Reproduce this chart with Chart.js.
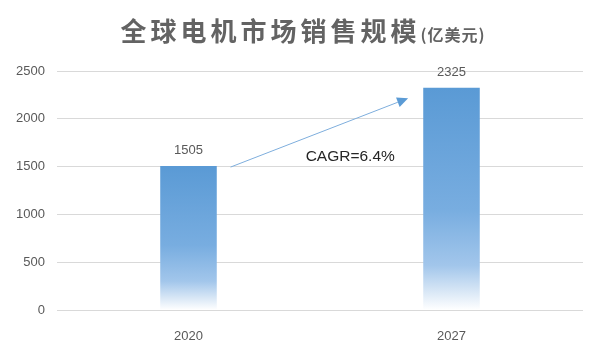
<!DOCTYPE html>
<html>
<head>
<meta charset="utf-8">
<script src="https://cdn.jsdelivr.net/npm/chart.js@4/dist/chart.umd.min.js"></script>
<style>
  html, body { margin: 0; padding: 0; background: #fff; }
  #wrap { position: relative; width: 600px; height: 355px; }
  #title {
    position: absolute; left: 0; top: 12px; width: 600px; text-align: center;
    font-family: "Noto Sans CJK SC", sans-serif; font-weight: bold; color: #636363;
    font-size: 26px; letter-spacing: 4px; line-height: 36px; padding-left: 6px; box-sizing: border-box;
  }
  #title span { font-size: 16px; letter-spacing: 1px; }
</style>
</head>
<body>
<div id="wrap">
  <div id="title">全球电机市场销售规模<span>(亿美元)</span></div>
  <canvas id="chart" width="600" height="355"></canvas>
</div>
<script>
// données
const years = ["2020", "2027"];
const sales = [1505, 2325];
const yTicks = [0, 500, 1000, 1500, 2000, 2500];
const cagrText = "CAGR=6.4%";
// flèche : position en index de catégorie / valeur
const arrowFrom = [0.16, 1495];
const arrowTo = [0.835, 2215];
const cagrAt = [0.615, 1600];

const grey = "#595959";
const blue = "#5b9bd5";

function barGradient(c) {
    const chart = c.chart;
    if (!chart.chartArea) return blue;
    const y = chart.scales.y;
    const top = y.getPixelForValue(c.raw);
    const bottom = y.getPixelForValue(0);
    const g = chart.ctx.createLinearGradient(0, top, 0, bottom);
    g.addColorStop(0, "#5a9ad5");
    g.addColorStop(0.55, "#78ade0");
    g.addColorStop(0.8, "#a2c6eb");
    g.addColorStop(0.92, "#dae8f6");
    g.addColorStop(1, "#ffffff");
    return g;
}

// libellés, flèche et CAGR
const extras = {
    id: "extras",
    afterDatasetsDraw(chart) {
        const ctx = chart.ctx;
        const xs = chart.scales.x, ys = chart.scales.y;
        const meta = chart.getDatasetMeta(0);
        ctx.save();
        ctx.fillStyle = grey;
        ctx.font = "13px 'Liberation Sans'";
        ctx.textAlign = "center";
        ctx.textBaseline = "bottom";
        meta.data.forEach((bar, i) => {
            ctx.fillText(String(sales[i]), bar.x, bar.y - 9);
        });

        const x1 = xs.getPixelForValue(arrowFrom[0]), y1 = ys.getPixelForValue(arrowFrom[1]);
        const x2 = xs.getPixelForValue(arrowTo[0]), y2 = ys.getPixelForValue(arrowTo[1]);
        const a = Math.atan2(y2 - y1, x2 - x1);
        const len = 11, hw = 5;
        const bx = x2 - len * Math.cos(a), by = y2 - len * Math.sin(a);
        ctx.strokeStyle = "#7eaedd";
        ctx.lineWidth = 1;
        ctx.beginPath();
        ctx.moveTo(x1, y1);
        ctx.lineTo(bx, by);
        ctx.stroke();
        ctx.fillStyle = blue;
        ctx.beginPath();
        ctx.moveTo(x2, y2);
        ctx.lineTo(bx + hw * Math.sin(a), by - hw * Math.cos(a));
        ctx.lineTo(bx - hw * Math.sin(a), by + hw * Math.cos(a));
        ctx.closePath();
        ctx.fill();

        ctx.fillStyle = "#262626";
        ctx.font = "15.5px 'Liberation Sans'";
        ctx.textBaseline = "middle";
        ctx.fillText(cagrText, xs.getPixelForValue(cagrAt[0]), ys.getPixelForValue(cagrAt[1]));
        ctx.restore();
    }
};

new Chart(document.getElementById("chart"), {
    type: "bar",
    data: {
        labels: years,
        datasets: [{
            data: sales,
            backgroundColor: barGradient,
            categoryPercentage: 1,
            barPercentage: 0.215
        }]
    },
    options: {
        responsive: false,
        animation: false,
        layout: { padding: { top: 71, right: 17, bottom: 0, left: 0 } },
        plugins: { legend: { display: false }, tooltip: { enabled: false } },
        scales: {
            x: {
                grid: { display: false },
                border: { display: false },
                ticks: { color: grey, font: { size: 13, family: "Liberation Sans" }, padding: 11 },
                afterFit: axis => { axis.height = 45; }
            },
            y: {
                min: 0,
                max: 2500,
                afterBuildTicks: axis => { axis.ticks = yTicks.map(v => ({ value: v })); },
                grid: { color: "#d9d9d9", drawTicks: false },
                border: { display: false },
                ticks: {
                    color: grey,
                    font: { size: 13, family: "Liberation Sans" },
                    padding: 12,
                    callback: v => String(v)
                },
                afterFit: axis => { axis.width = 57; }
            }
        }
    },
    plugins: [extras]
});
</script>
</body>
</html>
